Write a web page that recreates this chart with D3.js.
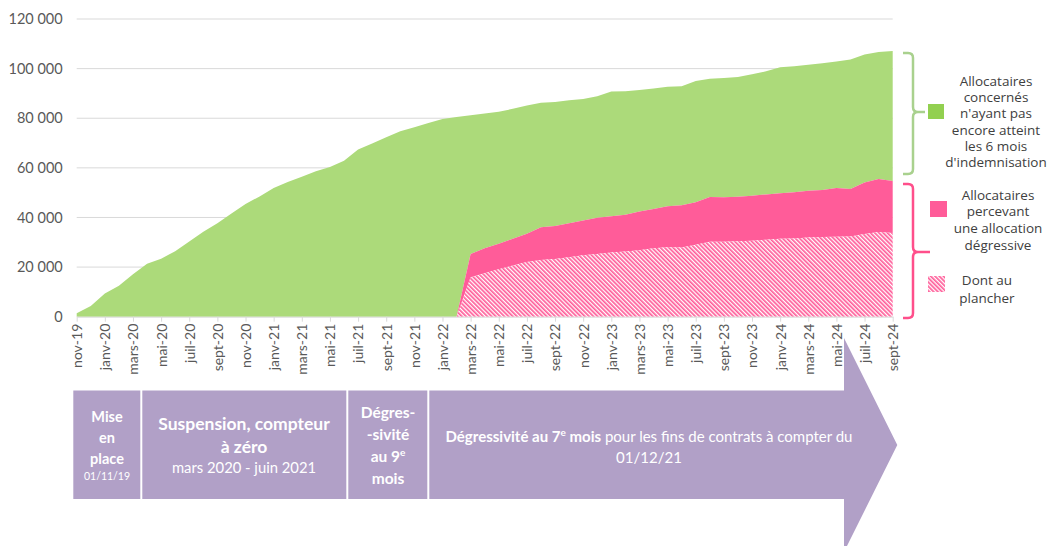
<!DOCTYPE html>
<html><head><meta charset="utf-8">
<script src="https://cdn.jsdelivr.net/npm/d3@7/dist/d3.min.js"></script>
<style>body{margin:0;background:#fff} svg{display:block}</style>
</head><body>
<svg id="c" width="1051" height="546"></svg>
<script>
// ---- data ----
const months = ["nov-19","déc-19",
 "janv-20","févr-20","mars-20","avr-20","mai-20","juin-20","juil-20","août-20","sept-20","oct-20","nov-20","déc-20",
 "janv-21","févr-21","mars-21","avr-21","mai-21","juin-21","juil-21","août-21","sept-21","oct-21","nov-21","déc-21",
 "janv-22","févr-22","mars-22","avr-22","mai-22","juin-22","juil-22","août-22","sept-22","oct-22","nov-22","déc-22",
 "janv-23","févr-23","mars-23","avr-23","mai-23","juin-23","juil-23","août-23","sept-23","oct-23","nov-23","déc-23",
 "janv-24","févr-24","mars-24","avr-24","mai-24","juin-24","juil-24","août-24","sept-24"];
// total of all allocataires (top of green area)
const total = [1400,4300,9400,12500,17100,21300,23400,26400,30300,34200,37700,41600,45400,48500,
 51900,54300,56400,58600,60300,62900,67400,69800,72300,74800,76400,78100,
 79700,80500,81200,81900,82600,83800,85100,86200,86500,87200,87800,88900,
 90800,90900,91400,92000,92700,92900,95000,95900,96200,96600,97700,98900,
 100600,101000,101600,102200,102900,103700,105700,106700,107100];
// allocataires percevant une allocation dégressive (top of pink area)
const degressive = [0,0,0,0,0,0,0,0,0,0,0,0,0,0,
 0,0,0,0,0,0,0,0,0,0,0,0,
 0,0,25300,27600,29400,31400,33400,36100,36600,37700,38800,39900,
 40500,41100,42400,43400,44500,44900,46100,48200,48100,48400,48800,49300,
 49800,50200,50800,51100,51900,51500,54100,55500,54700];
// dont au plancher (top of hatched area)
const plancher = [0,0,0,0,0,0,0,0,0,0,0,0,0,0,
 0,0,0,0,0,0,0,0,0,0,0,0,
 0,0,15900,17500,19100,20600,22000,22900,23300,24000,24800,25300,
 25900,26300,26800,27600,28000,27900,29000,30200,30200,30400,30600,31000,
 31400,31500,31900,32100,32200,32300,33300,34100,33700];
const yTicks = [0,20000,40000,60000,80000,100000,120000];
const legendGreen = ["Allocataires","concernés","n'ayant pas","encore atteint","les 6 mois","d'indemnisation"];
const legendPink = ["Allocataires","percevant","une allocation","dégressive"];
const legendHatch = ["Dont au","plancher"];

// ---- chart ----
const svg = d3.select("#c");
const GREEN = "#acda7a", PINK = "#ff5c99", PURPLE = "#b1a0c7", GRID = "#d9d9d9";
const fmt = d3.formatLocale({decimal:",", thousands:" ", grouping:[3], currency:["","€"]}).format(",d");

const x = d3.scalePoint().domain(months).range([76.7, 892.7]);
const y = d3.scaleLinear().domain([0,120000]).range([316.7, 19]);

const defs = svg.append("defs");
const pat = defs.append("pattern").attr("id","hatch").attr("patternUnits","userSpaceOnUse")
  .attr("width",3).attr("height",3).attr("patternTransform","rotate(-45)");
pat.append("rect").attr("width",3).attr("height",3).attr("fill","#fff");
pat.append("rect").attr("width",1.7).attr("height",3).attr("fill",PINK);

// grid + y axis
const yAxis = d3.axisLeft(y).tickValues(yTicks).tickFormat(fmt).tickSize(0).tickPadding(14);
const gy = svg.append("g").attr("transform","translate(76.7,0)").call(yAxis);
gy.select(".domain").remove();
gy.selectAll("text").attr("font-family","Lato, sans-serif").attr("font-size",14.5).attr("fill","#595959");
svg.append("g").selectAll("line").data(yTicks.filter(d=>d>0)).join("line")
  .attr("x1",76.7).attr("x2",892.7).attr("y1",d=>y(d)).attr("y2",d=>y(d))
  .attr("stroke",GRID).attr("stroke-width",1);

// areas
const idx = d3.range(months.length);
const area = (lo, hi) => d3.area().x(i=>x(months[i])).y0(i=>y(lo(i))).y1(i=>y(hi(i)));
svg.append("path").datum(idx).attr("fill",GREEN).attr("d", area(i=>degressive[i], i=>total[i]));
svg.append("path").datum(idx).attr("fill",PINK).attr("d", area(i=>plancher[i], i=>degressive[i]));
svg.append("path").datum(idx).attr("fill","url(#hatch)").attr("d", area(i=>0, i=>plancher[i]));

// x axis
const xAxis = d3.axisBottom(x).tickValues(months.filter((d,i)=>i%2===0)).tickSize(5).tickSizeOuter(0);
const gx = svg.append("g").attr("transform","translate(0,316.7)").call(xAxis);
gx.select(".domain").attr("stroke",GRID);
gx.selectAll(".tick line").attr("stroke",GRID);
gx.selectAll("text").attr("font-family","Lato, sans-serif").attr("font-size",14).attr("fill","#595959")
  .attr("text-anchor","end").attr("transform","translate(0,7) rotate(-90)")
  .attr("x",0).attr("y",0).attr("dy","0.35em");

// brackets
function brace(x0, top, bottom, mid, tipX, color){
  const r = 5, xv = x0 + 10;
  const p = `M${x0},${top} L${xv-r},${top} Q${xv},${top} ${xv},${top+r} L${xv},${mid-r} Q${xv},${mid} ${xv+r},${mid} L${tipX},${mid} M${xv+r},${mid} Q${xv},${mid} ${xv},${mid+r} L${xv},${bottom-r} Q${xv},${bottom} ${xv-r},${bottom} L${x0},${bottom}`;
  svg.append("path").attr("d",p).attr("fill","none").attr("stroke",color).attr("stroke-width",2.5);
}
brace(903, 53, 174, 112, 925, "#a9d18e");
brace(903, 184, 318, 252, 930, "#ff4f8b");

// legend
svg.append("rect").attr("x",928).attr("y",104).attr("width",16).attr("height",15).attr("fill","#92d050");
svg.append("rect").attr("x",930).attr("y",201).attr("width",17).attr("height",16).attr("fill",PINK);
svg.append("rect").attr("x",928).attr("y",276).attr("width",17).attr("height",16).attr("fill","url(#hatch)");
function legendText(lines, cx, y0, lh){
  const t = svg.append("text").attr("font-family","'Open Sans', sans-serif").attr("font-size",13.5)
    .attr("fill","#404040").attr("text-anchor","middle");
  lines.forEach((l,i)=>t.append("tspan").attr("x",cx).attr("y",y0+i*lh).attr("dy","0.35em").text(l));
}
legendText(legendGreen, 996, 81, 16.3);
legendText(legendPink, 998, 195, 16.7);
legendText(legendHatch, 987, 280.5, 17.5);

// timeline
const tl = svg.append("g");
tl.append("rect").attr("x",73.3).attr("y",390.5).attr("width",67).attr("height",108.5).attr("fill",PURPLE);
tl.append("rect").attr("x",142.3).attr("y",390.5).attr("width",204).attr("height",108.5).attr("fill",PURPLE);
tl.append("rect").attr("x",348.3).attr("y",390.5).attr("width",79).attr("height",108.5).attr("fill",PURPLE);
tl.append("path").attr("d","M429.3,390.5 L844,390.5 L844,338 L897.3,445 L844,552 L844,499 L429.3,499 Z").attr("fill",PURPLE);

function tline(txt, cx, cy, size, bold){
  return tl.append("text").attr("x",cx).attr("y",cy).attr("dy","0.35em").attr("text-anchor","middle")
    .attr("font-family","Lato, sans-serif").attr("font-size",size).attr("font-weight",bold?"bold":"normal")
    .attr("fill","#fff").text(txt);
}
tline("Mise",107,417,14.5,true);
tline("en",107,438,14.5,true);
tline("place",107,459,14.5,true);
tline("01/11/19",107,476,10.5,false);

tline("Suspension, compteur",244,424,17.5,true);
tline("à zéro",244,447,17.5,true);
tline("mars 2020 - juin 2021",244,468,14.8,false);

tline("Dégres-",388,413,15.5,true);
tline("-sivité",388,435,15.5,true);
const t9 = tline("au 9",388,457,15.5,true);
t9.append("tspan").attr("font-size",10).attr("baseline-shift","super").text("e");
tline("mois",388,479,15.5,true);

const t7 = tl.append("text").attr("x",649).attr("y",437).attr("dy","0.35em").attr("text-anchor","middle")
  .attr("font-family","Lato, sans-serif").attr("font-size",15).attr("fill","#fff");
t7.append("tspan").attr("font-weight","bold").text("Dégressivité au 7");
t7.append("tspan").attr("font-weight","bold").attr("font-size",10).attr("baseline-shift","super").text("e");
t7.append("tspan").attr("font-weight","bold").text(" mois");
t7.append("tspan").text(" pour les fins de contrats à compter du");
tline("01/12/21",649,458,15,false);
</script>
</body></html>
